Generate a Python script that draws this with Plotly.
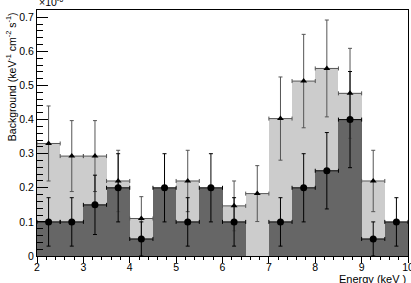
import plotly.graph_objects as go

# Bin centres (keV), bin width 0.5
energy = [2.25, 2.75, 3.25, 3.75, 4.25, 4.75, 5.25, 5.75,
          6.25, 6.75, 7.25, 7.75, 8.25, 8.75, 9.25, 9.75]

# Light histogram (triangles), units of 1e-6
light = [0.33, 0.293, 0.293, 0.22, 0.11, 0, 0.22, 0,
         0.147, 0.183, 0.403, 0.513, 0.55, 0.477, 0.22, 0]
light_err = [0.11, 0.104, 0.104, 0.09, 0.064, 0, 0.09, 0,
             0.073, 0.082, 0.122, 0.137, 0.142, 0.132, 0.09, 0]

# Dark histogram (circles), units of 1e-6
dark = [0.1, 0.1, 0.15, 0.2, 0.05, 0.2, 0.1, 0.2,
        0.1, 0, 0.1, 0.2, 0.25, 0.4, 0.05, 0.1]
dark_err = [0.071, 0.071, 0.087, 0.1, 0.05, 0.1, 0.071, 0.1,
            0.071, 0, 0.071, 0.1, 0.112, 0.141, 0.05, 0.071]

LIGHT = "#cccccc"
DARK = "#666666"
FONT = "Liberation Sans, Arial, sans-serif"
FS = 10.5


def nonzero(x, y, e):
    xs, ys, es = [], [], []
    for a, b, c in zip(x, y, e):
        if b != 0:
            xs.append(a)
            ys.append(b)
            es.append(c)
    return xs, ys, es


fig = go.Figure()
fig.add_trace(go.Bar(x=energy, y=light, width=0.5, marker=dict(color=LIGHT, line=dict(width=0)),
                     hoverinfo="skip"))
fig.add_trace(go.Bar(x=energy, y=dark, width=0.5, marker=dict(color=DARK, line=dict(width=0)),
                     hoverinfo="skip"))

lx, ly, le = nonzero(energy, light, light_err)
fig.add_trace(go.Scatter(
    x=lx, y=ly, mode="markers",
    marker=dict(symbol="triangle-up", size=6, color="black"),
    error_y=dict(type="data", array=le, color="#555555", thickness=1, width=2),
    error_x=dict(type="constant", value=0.25, color="#555555", thickness=1, width=2),
))
dx, dy, de = nonzero(energy, dark, dark_err)
fig.add_trace(go.Scatter(
    x=dx, y=dy, mode="markers",
    marker=dict(symbol="circle", size=7, color="black"),
    error_y=dict(type="data", array=de, color="black", thickness=1, width=2),
    error_x=dict(type="constant", value=0.25, color="black", thickness=1, width=2),
))
# empty helper trace so the overlaid tick-only x axis is drawn
fig.add_trace(go.Scatter(x=[], y=[], xaxis="x2", yaxis="y", showlegend=False))

fig.update_layout(
    width=411, height=283,
    margin=dict(l=36.5, r=3, t=10, b=27, autoexpand=False),
    paper_bgcolor="white", plot_bgcolor="white",
    barmode="overlay", bargap=0, showlegend=False,
    font=dict(family=FONT, size=FS, color="black"),
    xaxis=dict(
        range=[2, 10], tick0=2, dtick=1, ticks="", ticklabeloverflow="allow",
        showgrid=False, zeroline=False, showline=True, linecolor="black", linewidth=1,
        mirror=True, tickfont=dict(size=FS), ticklabelstandoff=1, automargin=False,
    ),
    xaxis2=dict(
        range=[2, 10], overlaying="x", side="bottom", anchor="y",
        tick0=2, dtick=1, ticks="outside", ticklen=6, tickcolor="black",
        minor=dict(dtick=0.2, ticks="outside", ticklen=3, tickcolor="black"),
        showticklabels=False, showgrid=False, zeroline=False, showline=False,
        automargin=False,
    ),
    yaxis=dict(
        range=[0, 0.7214], tick0=0, dtick=0.1, ticks="inside", ticklen=11, tickcolor="black",
        minor=dict(dtick=0.02, ticks="inside", ticklen=5.5, tickcolor="black"),
        showgrid=False, zeroline=False, showline=True, linecolor="black", linewidth=1,
        mirror=True, tickfont=dict(size=FS), automargin=False,
    ),
)

fig.add_annotation(text="Background (keV<sup>-1</sup> cm<sup>-2</sup> s<sup>-1</sup>)",
                   xref="paper", yref="paper", x=-0.071, y=1.0, xanchor="center", yanchor="top",
                   textangle=-90, showarrow=False, font=dict(size=FS))
fig.add_annotation(text="Energy (keV )", xref="paper", yref="paper", x=1.0, y=-0.062,
                   xanchor="right", yanchor="top", showarrow=False, font=dict(size=11))
fig.add_annotation(text="×10<sup>-6</sup>", xref="paper", yref="paper", x=0.0, y=1.0,
                   xanchor="left", yanchor="bottom", showarrow=False, font=dict(size=FS))

fig.write_html("out.html")
